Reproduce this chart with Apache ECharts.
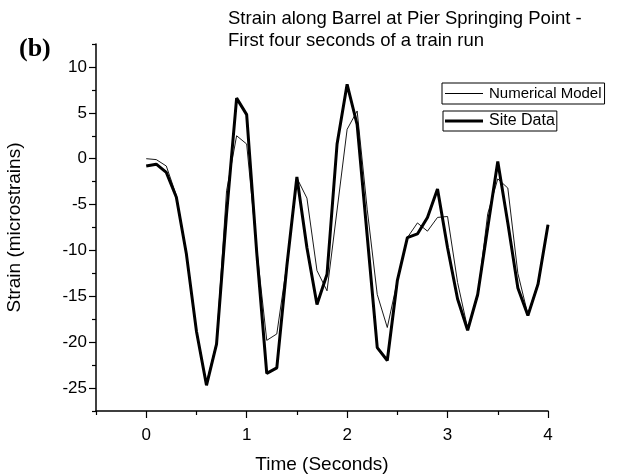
<!DOCTYPE html>
<html>
<head>
<meta charset="utf-8">
<script src="https://cdn.jsdelivr.net/npm/echarts@6/dist/echarts.min.js"></script>
<style>html,body{margin:0;padding:0;background:#fff;}#c{width:633px;height:476px;}</style>
</head>
<body>
<div id="c"></div>
<script>
const time = [0.0,0.1,0.2,0.3,0.4,0.5,0.6,0.7,0.8,0.9,1.0,1.1,1.2,1.3,1.4,1.5,1.6,1.7,1.8,1.9,2.0,2.1,2.2,2.3,2.4,2.5,2.6,2.7,2.8,2.9,3.0,3.1,3.2,3.3,3.4,3.5,3.6,3.7,3.8,3.9,4.0];
const numericalModel = [0,-0.1,-0.8,-4.0,-10.3,-18.8,-24.5,-20,-3.5,2.5,1.6,-9.8,-19.8,-19.1,-11.5,-2.1,-4.3,-12.2,-14.4,-5.6,3.2,5.2,-5.5,-14.8,-18.4,-13.3,-8.6,-7.0,-7.9,-6.4,-6.3,-13.5,-18.5,-15.0,-6.0,-2.2,-3.2,-12.5,-17.0,-13.5,-7.2];
const siteData = [-0.8,-0.6,-1.5,-4.2,-10.4,-18.8,-24.7,-20.2,-6.0,6.6,4.8,-10.2,-23.4,-22.8,-11.7,-2.0,-9.7,-15.9,-12.6,1.6,8.1,3.7,-8.4,-20.6,-22.0,-13.3,-8.6,-8.2,-6.4,-3.3,-9.7,-15.3,-18.7,-14.8,-7.5,-0.3,-7.0,-14.1,-17.1,-13.7,-7.2];
const xMajorTicks = [0,1,2,3,4];
const xMinorTicks = [-0.5,0.5,1.5,2.5,3.5];
const yMajorTicks = [-25,-20,-15,-10,-5,0,5,10];
const yMinorTicks = [-27.5,-22.5,-17.5,-12.5,-7.5,-2.5,2.5,7.5,12.5];

const FONT = 'Liberation Sans, Arial, sans-serif';
const chart = echarts.init(document.getElementById('c'), null, {renderer:'canvas'});
const pairs = a => time.map((t,i)=>[t,a[i]]);
const xBase = {type:'value', min:-0.5, max:4, position:'bottom', splitLine:{show:false}};
const yBase = {type:'value', min:-27.5, max:12.5, position:'left', splitLine:{show:false}};
chart.setOption({
  animation:false,
  backgroundColor:'#fff',
  title:[
    {text:'Strain along Barrel at Pier Springing Point -\nFirst four seconds of a train run', left:223, top:3,
     textStyle:{fontFamily:FONT, fontSize:18.5, fontWeight:'normal', color:'#000', lineHeight:22}},
    {text:'(b)', left:14, top:31, textStyle:{fontFamily:'Liberation Serif, Times New Roman, serif', fontSize:26, fontWeight:'bold', color:'#000'}}
  ],
  legend:[
    {data:[{name:'Numerical Model', icon:'rect'}], left:442, top:83, orient:'vertical', borderColor:'#000', borderWidth:1, borderRadius:0,
     padding:[3,3,3,3], itemWidth:38, itemHeight:1, itemGap:4, textStyle:{fontFamily:FONT, fontSize:15, color:'#000', padding:[0,0,0,1]}},
    {data:[{name:'Site Data', icon:'rect'}], left:443, top:111, orient:'vertical', borderColor:'#000', borderWidth:1, borderRadius:0,
     padding:[2,2,2,2], itemWidth:38, itemHeight:3, itemGap:4, textStyle:{fontFamily:FONT, fontSize:16, color:'#000', padding:[0,0,0,1]}}
  ],
  grid:{left:96, right:85, top:44, bottom:65, containLabel:false, outerBoundsMode:'none'},
  xAxis:[
    Object.assign({}, xBase, {
      name:'Time (Seconds)', nameLocation:'middle', nameGap:44,
      nameTextStyle:{fontFamily:FONT, fontSize:19, color:'#000'},
      axisLine:{show:true, onZero:false, lineStyle:{color:'#000', width:1.5}},
      axisTick:{show:true, customValues:xMajorTicks, length:7, lineStyle:{color:'#000', width:1.2}},
      axisLabel:{customValues:xMajorTicks, fontFamily:FONT, fontSize:17, color:'#000', margin:16}
    }),
    Object.assign({}, xBase, {
      axisLine:{show:false, onZero:false},
      axisTick:{show:true, customValues:xMinorTicks, length:4, lineStyle:{color:'#000', width:1.2}},
      axisLabel:{show:false}
    })
  ],
  yAxis:[
    Object.assign({}, yBase, {
      name:'Strain (microstrains)', nameLocation:'middle', nameGap:72, nameRotate:90,
      nameTextStyle:{fontFamily:FONT, fontSize:19, color:'#000'},
      axisLine:{show:true, onZero:false, lineStyle:{color:'#000', width:1.5}},
      axisTick:{show:true, customValues:yMajorTicks, length:7, lineStyle:{color:'#000', width:1.2}},
      axisLabel:{customValues:yMajorTicks, fontFamily:FONT, fontSize:17, color:'#000', margin:9}
    }),
    Object.assign({}, yBase, {
      axisLine:{show:false, onZero:false},
      axisTick:{show:true, customValues:yMinorTicks, length:4, lineStyle:{color:'#000', width:1.2}},
      axisLabel:{show:false}
    })
  ],
  series:[
    {name:'Numerical Model', type:'line', data:pairs(numericalModel), symbol:'none', z:3,
     lineStyle:{color:'#000', width:0.9}, itemStyle:{color:'#000'}},
    {name:'Site Data', type:'line', data:pairs(siteData), symbol:'none', z:2,
     lineStyle:{color:'#000', width:3}, itemStyle:{color:'#000'}}
  ]
});
</script>
</body>
</html>
